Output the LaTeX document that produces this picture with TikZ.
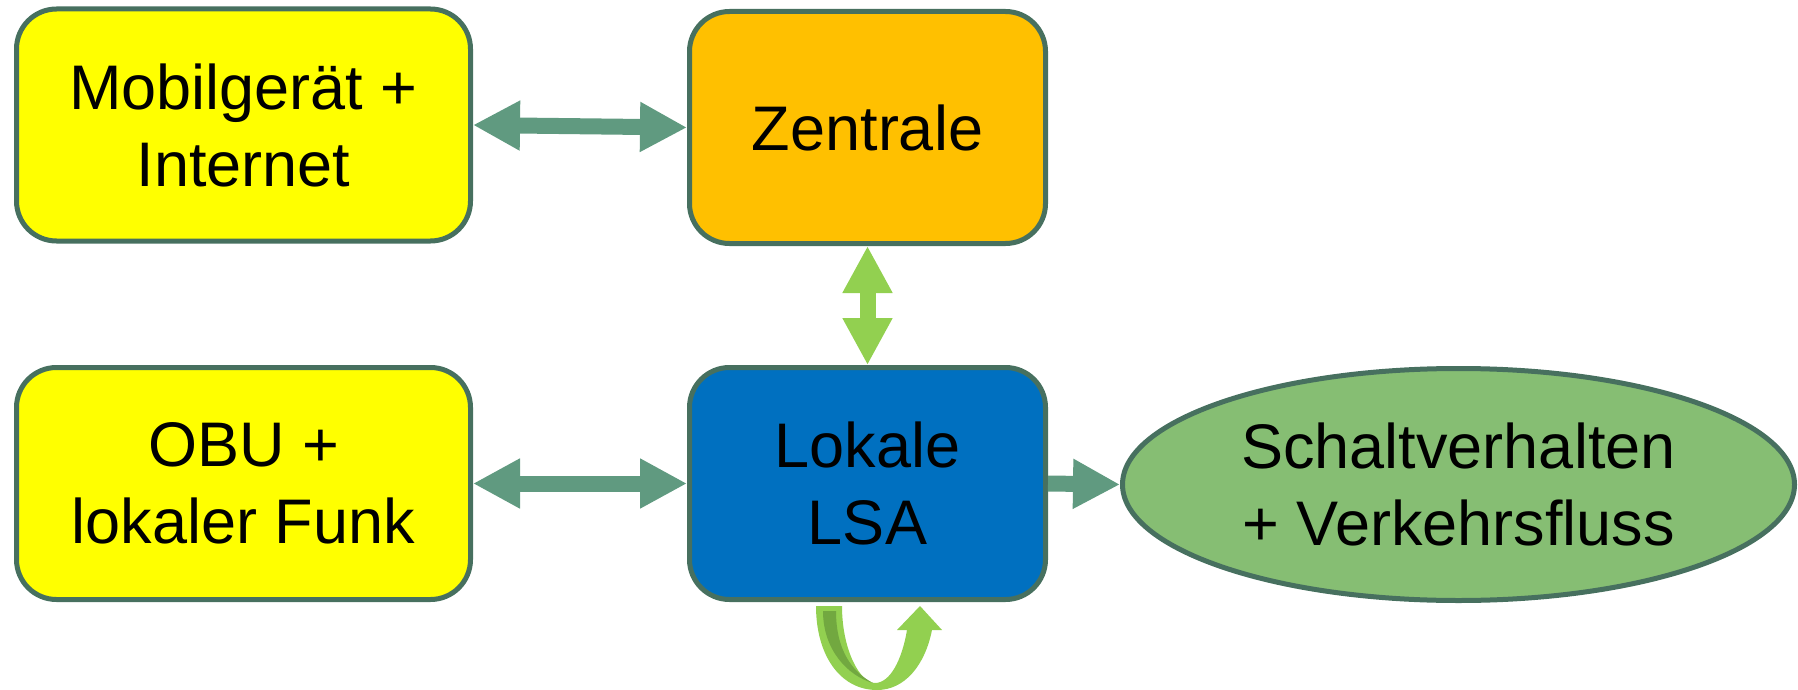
\documentclass[tikz,border=0pt]{standalone}
\usepackage{fontspec}
\setmainfont{Liberation Sans}
\usepackage{xcolor}
\usetikzlibrary{arrows.meta,shapes.geometric}
\definecolor{rahmen}{HTML}{47705F}
\definecolor{gelb}{HTML}{FFFF00}
\definecolor{zentralgelb}{HTML}{FFC000}
\definecolor{lsablau}{HTML}{0070C0}
\definecolor{ellgruen}{HTML}{86BE73}
\definecolor{pfeilgrau}{HTML}{609A80}
\definecolor{hellgruen}{HTML}{92D050}
\definecolor{dunkelgruen}{HTML}{72A840}

\begin{document}
\begin{tikzpicture}[line join=round,x=0.5pt,y=-0.5pt,
  >={Triangle[width=23.5pt,length=23.5pt]},
  schrift/.style={font=\fontsize{31.5}{38.5}\selectfont},
  kasten/.style={schrift,draw=rahmen,line width=2.5pt,rounded corners=20pt,minimum width=227pt,minimum height=116pt,inner sep=0pt,align=center},
  pfeil/.style={line width=8pt}]
\useasboundingbox (0,0) rectangle (1798,690);
% Kaesten
\node[kasten,fill=gelb] (mobil) at (243.5,125) {Mobilgerät +\\Internet};
\node[kasten,fill=zentralgelb,minimum width=178pt] (zentrale) at (867.5,127.5) {Zentrale};
\node[kasten,fill=gelb] (obu) at (243.5,483.5) {OBU +\\lokaler Funk};
\node[kasten,fill=lsablau,minimum width=178pt] (lsa) at (867.5,483.5) {Lokale\\LSA};
\node[ellipse,schrift,draw=rahmen,line width=2.5pt,fill=ellgruen,minimum width=336pt,minimum height=116pt,inner sep=0pt,align=center] (verkehr) at (1458.5,484.5) {Schaltverhalten\\+ Verkehrsfluss};
% Pfeile
\draw[pfeil,draw=pfeilgrau,<->] (mobil.east) -- (zentrale.west);
\draw[pfeil,draw=hellgruen,<->] (zentrale.south) -- (lsa.north);
\draw[pfeil,draw=pfeilgrau,<->] (obu.east) -- (lsa.west);
\draw[pfeil,draw=pfeilgrau,->] (lsa.east) -- (verkehr.west);
% Rueckkopplung
\fill[hellgruen] (816,606) .. controls (816,655) and (840,690) .. (877,690)
  .. controls (905,690) and (925,665) .. (932,630) -- (942,630) -- (920,606) -- (897,630) -- (907,630)
  .. controls (902,660) and (890,683) .. (875,683) .. controls (860,683) and (842,650) .. (842,606) -- cycle;
\fill[dunkelgruen] (823,611) -- (836,611) .. controls (836,650) and (852,672) .. (873,683)
  .. controls (848,676) and (823,650) .. (823,611) -- cycle;
\end{tikzpicture}
\end{document}
